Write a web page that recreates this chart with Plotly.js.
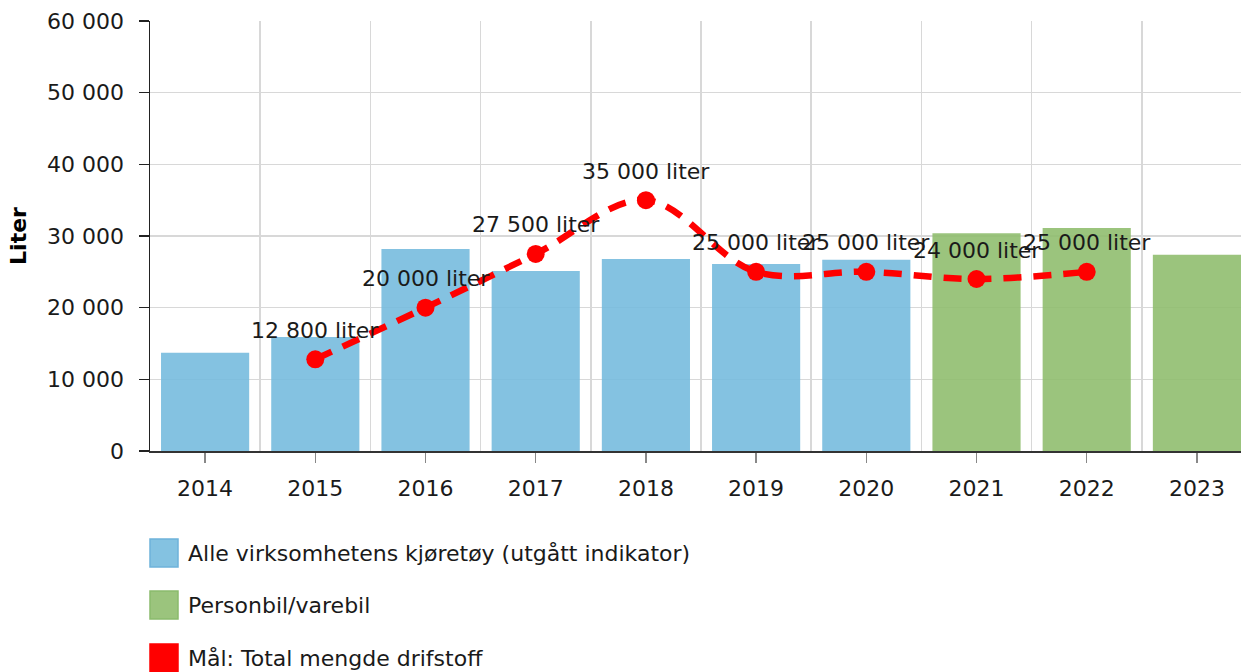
<!DOCTYPE html>
<html>
<head>
<meta charset="utf-8">
<script src="https://cdn.plot.ly/plotly-3.0.1.min.js"></script>
<style>html,body{margin:0;padding:0;background:#fff;} #chart{width:1241px;height:672px;}</style>
</head>
<body>
<div id="chart"></div>
<script>
// ---- data ----
const years = [2014, 2015, 2016, 2017, 2018, 2019, 2020, 2021, 2022, 2023];
const allVehicles = [13700, 15900, 28200, 25100, 26800, 26100, 26700, null, null, null];
const carVan = [null, null, null, null, null, null, null, 30400, 31100, 27400];
const goalYears = [2015, 2016, 2017, 2018, 2019, 2020, 2021, 2022];
const goalValues = [12800, 20000, 27500, 35000, 25000, 25000, 24000, 25000];
const goalLabels = ["12 800 liter", "20 000 liter", "27 500 liter", "35 000 liter", "25 000 liter", "25 000 liter", "24 000 liter", "25 000 liter"];
const seriesNames = ["Alle virksomhetens kjøretøy (utgått indikator)", "Personbil/varebil", "Mål: Total mengde drifstoff"];
const yTitle = "Liter";

const FONT = "DejaVu Sans, Verdana, sans-serif";
const FS = 22;
const blue = "rgba(119,187,222,0.9)";
const green = "rgba(144,190,111,0.9)";
const red = "#ff0000";

const W = 1241, H = 672, mL = 150, mR = 0, mT = 21, mB = 221;
const pw = W - mL - mR, ph = H - mT - mB;
const px2x = p => (p - mL) / pw;
const py2y = p => (H - mB - p) / ph;

const traces = [
  {type: "bar", x: years, y: allVehicles, name: seriesNames[0], marker: {color: blue}, width: 0.8, showlegend: false, hoverinfo: "x+y"},
  {type: "bar", x: years, y: carVan, name: seriesNames[1], marker: {color: green}, width: 0.8, showlegend: false, hoverinfo: "x+y"},
  {type: "scatter", mode: "lines+markers", x: goalYears, y: goalValues, name: seriesNames[2],
   line: {color: red, width: 6.5, dash: "18px,12px", shape: "spline", smoothing: 1},
   marker: {color: red, size: 18}, showlegend: false, cliponaxis: false}
];

const legendColors = [[blue, "#6db3da"], [green, "#8abb6c"], [red, red]];
const legendY = [553, 605, 658];
const shapes = [], annotations = [];
legendY.forEach((cy, i) => {
  shapes.push({type: "rect", xref: "paper", yref: "paper",
    x0: px2x(150), x1: px2x(178), y0: py2y(cy - 14), y1: py2y(cy + 14),
    fillcolor: legendColors[i][0], line: {color: legendColors[i][1], width: 1.5}});
  annotations.push({xref: "paper", yref: "paper", x: px2x(186), y: py2y(cy), xanchor: "left", yanchor: "middle",
    text: seriesNames[i], showarrow: false, font: {family: FONT, size: FS, color: "#1a1a1a"}});
});
goalYears.forEach((yr, i) => {
  annotations.push({xref: "x", yref: "y", x: yr, y: goalValues[i], yshift: 29, xanchor: "center", yanchor: "middle",
    text: goalLabels[i], showarrow: false, font: {family: FONT, size: FS, color: "#1a1a1a"}});
});

const layout = {
  width: W, height: H,
  margin: {l: mL, r: mR, t: mT, b: mB, pad: 0},
  paper_bgcolor: "#fff", plot_bgcolor: "#fff",
  font: {family: FONT, size: FS, color: "#1a1a1a"},
  separators: ", ",
  barmode: "overlay",
  showlegend: false,
  xaxis: {
    type: "linear", range: [2013.5, 2023.4], tickvals: years, ticktext: years.map(String),
    showgrid: false, zeroline: false, showline: true, linecolor: "#333", linewidth: 1.5,
    ticks: "outside", ticklen: 10, tickcolor: "#888", tickwidth: 1.5, ticklabelstandoff: 7,
    tickfont: {family: FONT, size: FS, color: "#1a1a1a"},
    minor: {tick0: 2013.5, dtick: 1, showgrid: true, gridcolor: "#d8d8d8", gridwidth: 1.5, ticks: ""}
  },
  yaxis: {
    range: [0, 60000], dtick: 10000, tickformat: ",d",
    showgrid: true, gridcolor: "#d8d8d8", gridwidth: 1.5, zeroline: false,
    showline: true, linecolor: "#222", linewidth: 1.5,
    ticks: "outside", ticklen: 10, tickcolor: "#222", tickwidth: 1.5, ticklabelstandoff: 10,
    tickfont: {family: FONT, size: FS, color: "#1a1a1a"},
    title: {text: "<b>" + yTitle + "</b>", standoff: 14, font: {family: FONT, size: FS, color: "#000"}}
  },
  shapes: shapes,
  annotations: annotations
};

Plotly.newPlot("chart", traces, layout, {displayModeBar: false, staticPlot: true});
</script>
</body>
</html>
